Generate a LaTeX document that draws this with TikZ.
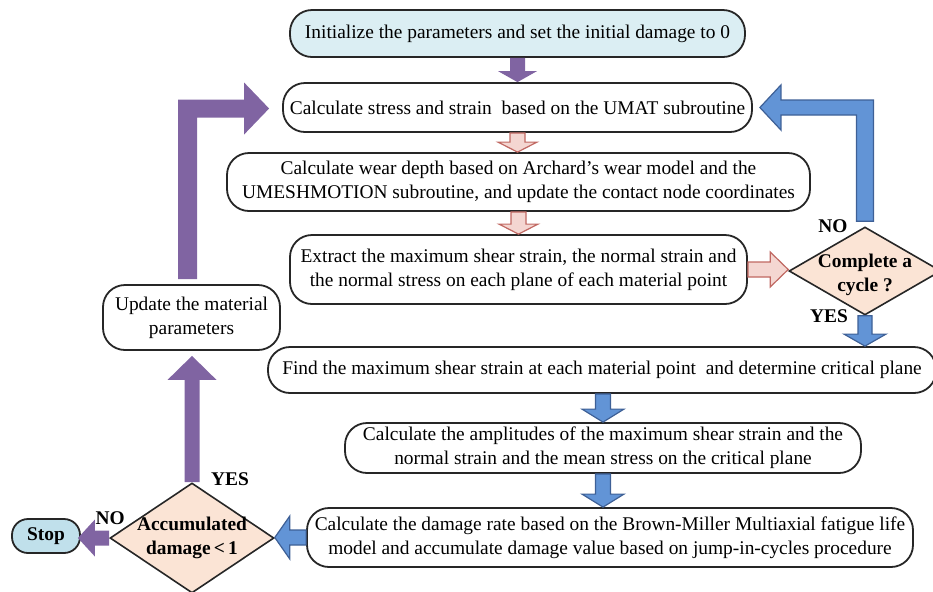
\documentclass[tikz,border=0pt]{standalone}
\usepackage{fontspec}
\setmainfont{Liberation Serif}
\usepackage{tikz}
\usetikzlibrary{shapes.geometric, calc}
\definecolor{initblue}{RGB}{219,238,243}
\definecolor{stopblue}{RGB}{192,224,235}
\definecolor{peach}{RGB}{251,228,213}
\definecolor{arrowpurple}{RGB}{128,100,162}
\definecolor{arrowblue}{RGB}{98,148,214}
\definecolor{edgeblue}{RGB}{62,96,150}
\definecolor{arrowpink}{RGB}{244,214,209}
\definecolor{edgepink}{RGB}{192,104,98}

% block arrow: style, from, to, half shaft, half head, head length (pt)
\newcommand{\fatarrow}[6]{%
  \draw[#1] let \p1=(#2), \p2=(#3), \n1={veclen(\x2-\x1,\y2-\y1)},
      \n2={(\x2-\x1)/\n1}, \n3={(\y2-\y1)/\n1} in
    ({\x1-(\n3)*#4pt},{\y1+(\n2)*#4pt})
    -- ({\x2-(\n2)*#6pt-(\n3)*#4pt},{\y2-(\n3)*#6pt+(\n2)*#4pt})
    -- ({\x2-(\n2)*#6pt-(\n3)*#5pt},{\y2-(\n3)*#6pt+(\n2)*#5pt})
    -- (\p2)
    -- ({\x2-(\n2)*#6pt+(\n3)*#5pt},{\y2-(\n3)*#6pt-(\n2)*#5pt})
    -- ({\x2-(\n2)*#6pt+(\n3)*#4pt},{\y2-(\n3)*#6pt-(\n2)*#4pt})
    -- ({\x1+(\n3)*#4pt},{\y1-(\n2)*#4pt}) -- cycle;}

\begin{document}
\begin{tikzpicture}[
    x=0.5pt, y=-0.5pt,
    font=\fontsize{9.7}{12}\selectfont,
    block/.style={rectangle, draw=black!85, line width=0.9pt, rounded corners=11pt, align=center, inner sep=0pt},
    initbox/.style={block, fill=initblue},
    decision/.style={diamond, draw=black!85, fill=peach, line width=0.8pt, inner sep=0pt},
    dlabel/.style={align=center, font=\fontsize{9.7}{12}\selectfont\bfseries},
    yesno/.style={font=\fontsize{9.7}{12}\selectfont\bfseries, inner sep=0pt},
    purplearrow/.style={fill=arrowpurple, draw=none},
    bluearrow/.style={fill=arrowblue, draw=edgeblue, line width=0.6pt},
    pinkarrow/.style={fill=arrowpink, draw=edgepink, line width=0.6pt}
]
\useasboundingbox (0,0) rectangle (933,591);

\node [initbox, minimum width=227.5pt, minimum height=23.5pt] (init) at (517.5,33.5) {Initialize the parameters and set the initial damage to 0};
\node [block, minimum width=234.5pt, minimum height=24.5pt] (stress) at (517.5,107.5) {Calculate stress and strain\ \ based on the UMAT subroutine};
\node [block, minimum width=291.5pt, minimum height=29pt] (wear) at (518.5,182) {Calculate wear depth based on Archard’s wear model and the\\UMESHMOTION subroutine, and update the contact node coordinates};
\node [block, minimum width=228.5pt, minimum height=34.5pt] (extract) at (518.5,269.5) {Extract the maximum shear strain, the normal strain and\\the normal stress on each plane of each material point};
\node [block, minimum width=88.5pt, minimum height=32.5pt] (update) at (191.5,317.5) {Update the material\\parameters};
\node [decision, minimum width=76pt, minimum height=44pt, label={[dlabel, yshift=-2pt]center:Complete a\\cycle ?}] (chk) at (865,271) {};
\node [block, minimum width=334pt, minimum height=23pt] (find) at (602,370) {Find the maximum shear strain at each material point\ \ and determine critical plane};
\node [block, minimum width=258pt, minimum height=25pt] (amp) at (603,448) {Calculate the amplitudes of the maximum shear strain and the\\normal strain and the mean stress on the critical plane};
\node [block, minimum width=303pt, minimum height=29.5pt] (damage) at (610,537.5) {Calculate the damage rate based on the Brown-Miller Multiaxial fatigue life\\model and accumulate damage value based on jump-in-cycles procedure};
\node [decision, minimum width=82pt, minimum height=55pt, label={[dlabel]center:Accumulated\\damage\,<\,1}] (acc) at (192,538) {};
\node [initbox, fill=stopblue, rounded corners=8pt, font=\fontsize{9.7}{12}\selectfont\bfseries, minimum width=34pt, minimum height=17pt] (stop) at (46,536) {Stop};

\fatarrow{purplearrow}{init.south}{init.south |- stress.north}{3.75}{9.75}{5.5}
\fatarrow{pinkarrow}{stress.south}{stress.south |- wear.north}{3.75}{9.75}{5}
\fatarrow{pinkarrow}{wear.south}{wear.south |- extract.north}{3.75}{9.75}{5}
\fatarrow{pinkarrow}{extract.east}{extract.east -| chk.west}{3.75}{8.75}{9}
\fatarrow{bluearrow}{chk.south}{chk.south |- find.north}{3.5}{10.5}{6}
\fatarrow{bluearrow}{amp.north |- find.south}{amp.north}{3.75}{10.5}{6.5}
\fatarrow{bluearrow}{amp.south}{amp.south |- damage.north}{3.75}{10.5}{6.5}
\fatarrow{bluearrow}{damage.west}{damage.west -| acc.east}{3.75}{10.75}{7.5}
\fatarrow{purplearrow}{acc.north}{$(acc.north |- update.south)+(0,5)$}{3.75}{12.25}{12}
\fatarrow{purplearrow}{acc.west}{$(acc.west -| stop.east)+(-3,0)$}{3.75}{9.25}{8.5}

\draw [bluearrow] let \p1=([yshift=2.5pt]chk.north), \p2=([xshift=3.5pt]stress.east) in
    (\x1-4.25pt,\y1) -- (\x1-4.25pt,\y2-3.75pt) -- (\x2+10.5pt,\y2-3.75pt) -- (\x2+10.5pt,\y2-11.25pt)
    -- (\p2) -- (\x2+10.5pt,\y2+11.25pt) -- (\x2+10.5pt,\y2+3.75pt) -- (\x1+4.25pt,\y2+3.75pt) -- (\x1+4.25pt,\y1) -- cycle;
\draw [purplearrow] let \p1=([xshift=-2pt,yshift=2.5pt]update.north), \p2=([xshift=-6.5pt,yshift=-0.5pt]stress.west) in
    (\x1-4.75pt,\y1) -- (\x1-4.75pt,\y2+4.5pt) -- (\x2-12.5pt,\y2+4.5pt) -- (\x2-12.5pt,\y2+13pt)
    -- (\p2) -- (\x2-12.5pt,\y2-13pt) -- (\x2-12.5pt,\y2-4.5pt) -- (\x1+4.75pt,\y2-4.5pt) -- (\x1+4.75pt,\y1) -- cycle;

\node [yesno] (no1) at ([xshift=-16pt]chk.north) {NO};
\node [yesno] (yes1) at ([xshift=-18pt]chk.south) {YES};
\node [yesno] (yes2) at ([xshift=19pt,yshift=1.5pt]acc.north) {YES};
\node [yesno] (no2) at ([xshift=0.5pt,yshift=10pt]acc.west) {NO};

\end{tikzpicture}
\end{document}
